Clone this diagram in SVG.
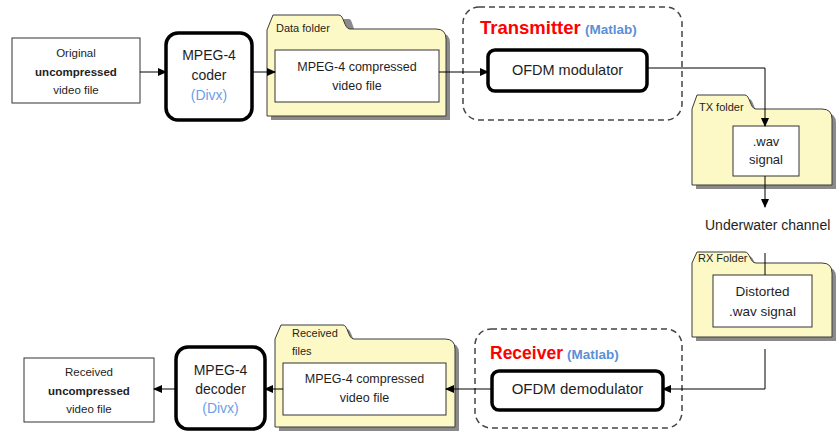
<svg xmlns="http://www.w3.org/2000/svg" width="837" height="431" viewBox="0 0 837 431">
<defs>
<marker id="arr" markerWidth="9" markerHeight="8" refX="8" refY="4" orient="auto" markerUnits="userSpaceOnUse">
<path d="M0,0 L9,4 L0,8 Z" fill="#000"/>
</marker>
</defs>
<style>
text{font-family:"Liberation Sans",Arial,sans-serif;fill:#1e1e1e;text-anchor:middle}
.plain{fill:#fff;stroke:#333;stroke-width:1}
.thick{fill:#fff;stroke:#000;stroke-width:3.5}
.dash{fill:none;stroke:#444;stroke-width:1.5;stroke-dasharray:6 4}
.folder{fill:#fdf9c6;stroke:#3a3a3a;stroke-width:1}
.shadow{fill:#8a8a8a;stroke:none}
.conn{fill:none;stroke:#000;stroke-width:1}
.blue{fill:#6d9ee8}
.bblue{fill:#5b8fd6;font-weight:bold}
.red{fill:#ff0000;font-weight:bold}
.lbl{text-anchor:start;font-size:11px}
</style>
<rect width="837" height="431" fill="#fff"/>

<g id="original">
<rect class="plain" x="12" y="38" width="128" height="65"/>
<text x="76" y="57" font-size="11.5">Original</text>
<text x="76" y="76" font-size="11.5" font-weight="bold">uncompressed</text>
<text x="76" y="94" font-size="11.5">video file</text>
</g>

<g id="coder">
<rect class="thick" x="166" y="33" width="86" height="87" rx="12"/>
<text x="209" y="60" font-size="14">MPEG-4</text>
<text x="209" y="80" font-size="14">coder</text>
<text x="209" y="100" font-size="14" class="blue">(Divx)</text>
</g>

<g id="data-folder">
<path class="shadow" d="M271,120 V34 L277,19 H349 C353,19 353,33 358,33 H440 Q450,33 450,43 V120 Z"/>
<path class="folder" d="M267,116 V30 L273,15 H339 C344,15 344,29 350,29 H436 Q446,29 446,39 V116 Z"/>
<text class="lbl" x="276" y="32">Data folder</text>
<rect class="plain" x="275" y="50" width="164" height="52"/>
<text x="357" y="71" font-size="12.5">MPEG-4 compressed</text>
<text x="357" y="90" font-size="12.5">video file</text>
</g>

<g id="transmitter">
<rect class="dash" x="463" y="7" width="219" height="113" rx="16"/>
<text x="480" y="34" font-size="18.5" class="red" style="text-anchor:start">Transmitter</text>
<text x="585" y="34" font-size="13.5" class="bblue" style="text-anchor:start">(Matlab)</text>
<rect class="thick" x="488" y="50" width="159" height="41" rx="7"/>
<text x="567.5" y="75" font-size="14.5">OFDM modulator</text>
</g>

<g id="tx-folder">
<path class="shadow" d="M696,189 V113 L701,99 H749 C754,99 754,113 760,113 H826 Q836,113 836,123 V189 Z"/>
<path class="folder" d="M692,185 V109 L697,95 H745 C750,95 750,109 756,109 H822 Q832,109 832,119 V185 Z"/>
<text class="lbl" x="699" y="111">TX folder</text>
<rect class="plain" x="733" y="126" width="66" height="50"/>
<text x="766" y="146" font-size="13">.wav</text>
<text x="766" y="164" font-size="13">signal</text>
</g>

<g id="channel">
<text x="705" y="230" font-size="14" style="text-anchor:start">Underwater channel</text>
</g>

<g id="rx-folder">
<path class="shadow" d="M696,341 V267 L701,256 H749 C754,256 754,267 760,267 H826 Q836,267 836,277 V341 Z"/>
<path class="folder" d="M692,337 V263 L697,252 H745 C750,252 750,263 756,263 H822 Q832,263 832,273 V337 Z"/>
<text class="lbl" x="698" y="262">RX Folder</text>
<rect class="plain" x="713" y="275" width="99" height="52"/>
<text x="762.5" y="296" font-size="13.5">Distorted</text>
<text x="762.5" y="316" font-size="13.5">.wav signal</text>
</g>

<g id="receiver">
<rect class="dash" x="475" y="329" width="207" height="99" rx="16"/>
<text x="490" y="359" font-size="17.5" class="red" style="text-anchor:start">Receiver</text>
<text x="567" y="359" font-size="13.5" class="bblue" style="text-anchor:start">(Matlab)</text>
<rect class="thick" x="492" y="371" width="171" height="39" rx="7"/>
<text x="577.5" y="394" font-size="15">OFDM demodulator</text>
</g>

<g id="received-folder">
<path class="shadow" d="M279,431 V343 L285,329 H347 C352,329 352,343 358,343 H449 Q459,343 459,353 V431 Z"/>
<path class="folder" d="M275,427 V339 L281,325 H343 C348,325 348,339 354,339 H445 Q455,339 455,349 V427 Z"/>
<text class="lbl" x="292" y="337">Received</text>
<text class="lbl" x="292" y="355">files</text>
<rect class="plain" x="283" y="363" width="163" height="52"/>
<text x="364.5" y="383" font-size="12.5">MPEG-4 compressed</text>
<text x="364.5" y="402" font-size="12.5">video file</text>
</g>

<g id="decoder">
<rect class="thick" x="176" y="347" width="89" height="82" rx="12"/>
<text x="220.5" y="375" font-size="14">MPEG-4</text>
<text x="220.5" y="394" font-size="14">decoder</text>
<text x="220.5" y="413" font-size="14" class="blue">(Divx)</text>
</g>

<g id="received">
<rect class="plain" x="24" y="358" width="130" height="64"/>
<text x="89" y="376" font-size="11.5">Received</text>
<text x="89" y="395" font-size="11.5" font-weight="bold">uncompressed</text>
<text x="89" y="413" font-size="11.5">video file</text>
</g>

<g id="connectors">
<path class="conn" d="M140,72 H166" marker-end="url(#arr)"/>
<path class="conn" d="M252,72 H275" marker-end="url(#arr)"/>
<path class="conn" d="M439,72 H488" marker-end="url(#arr)"/>
<path class="conn" d="M647,68 H765 V126" marker-end="url(#arr)"/>
<path class="conn" d="M765,176 V207" marker-end="url(#arr)"/>
<path class="conn" d="M765,253 V275"/>
<path class="conn" d="M765,349 V389 H663" marker-end="url(#arr)"/>
<path class="conn" d="M492,389 H446" marker-end="url(#arr)"/>
<path class="conn" d="M283,389 H265" marker-end="url(#arr)"/>
<path class="conn" d="M176,389 H154" marker-end="url(#arr)"/>
</g>
</svg>
